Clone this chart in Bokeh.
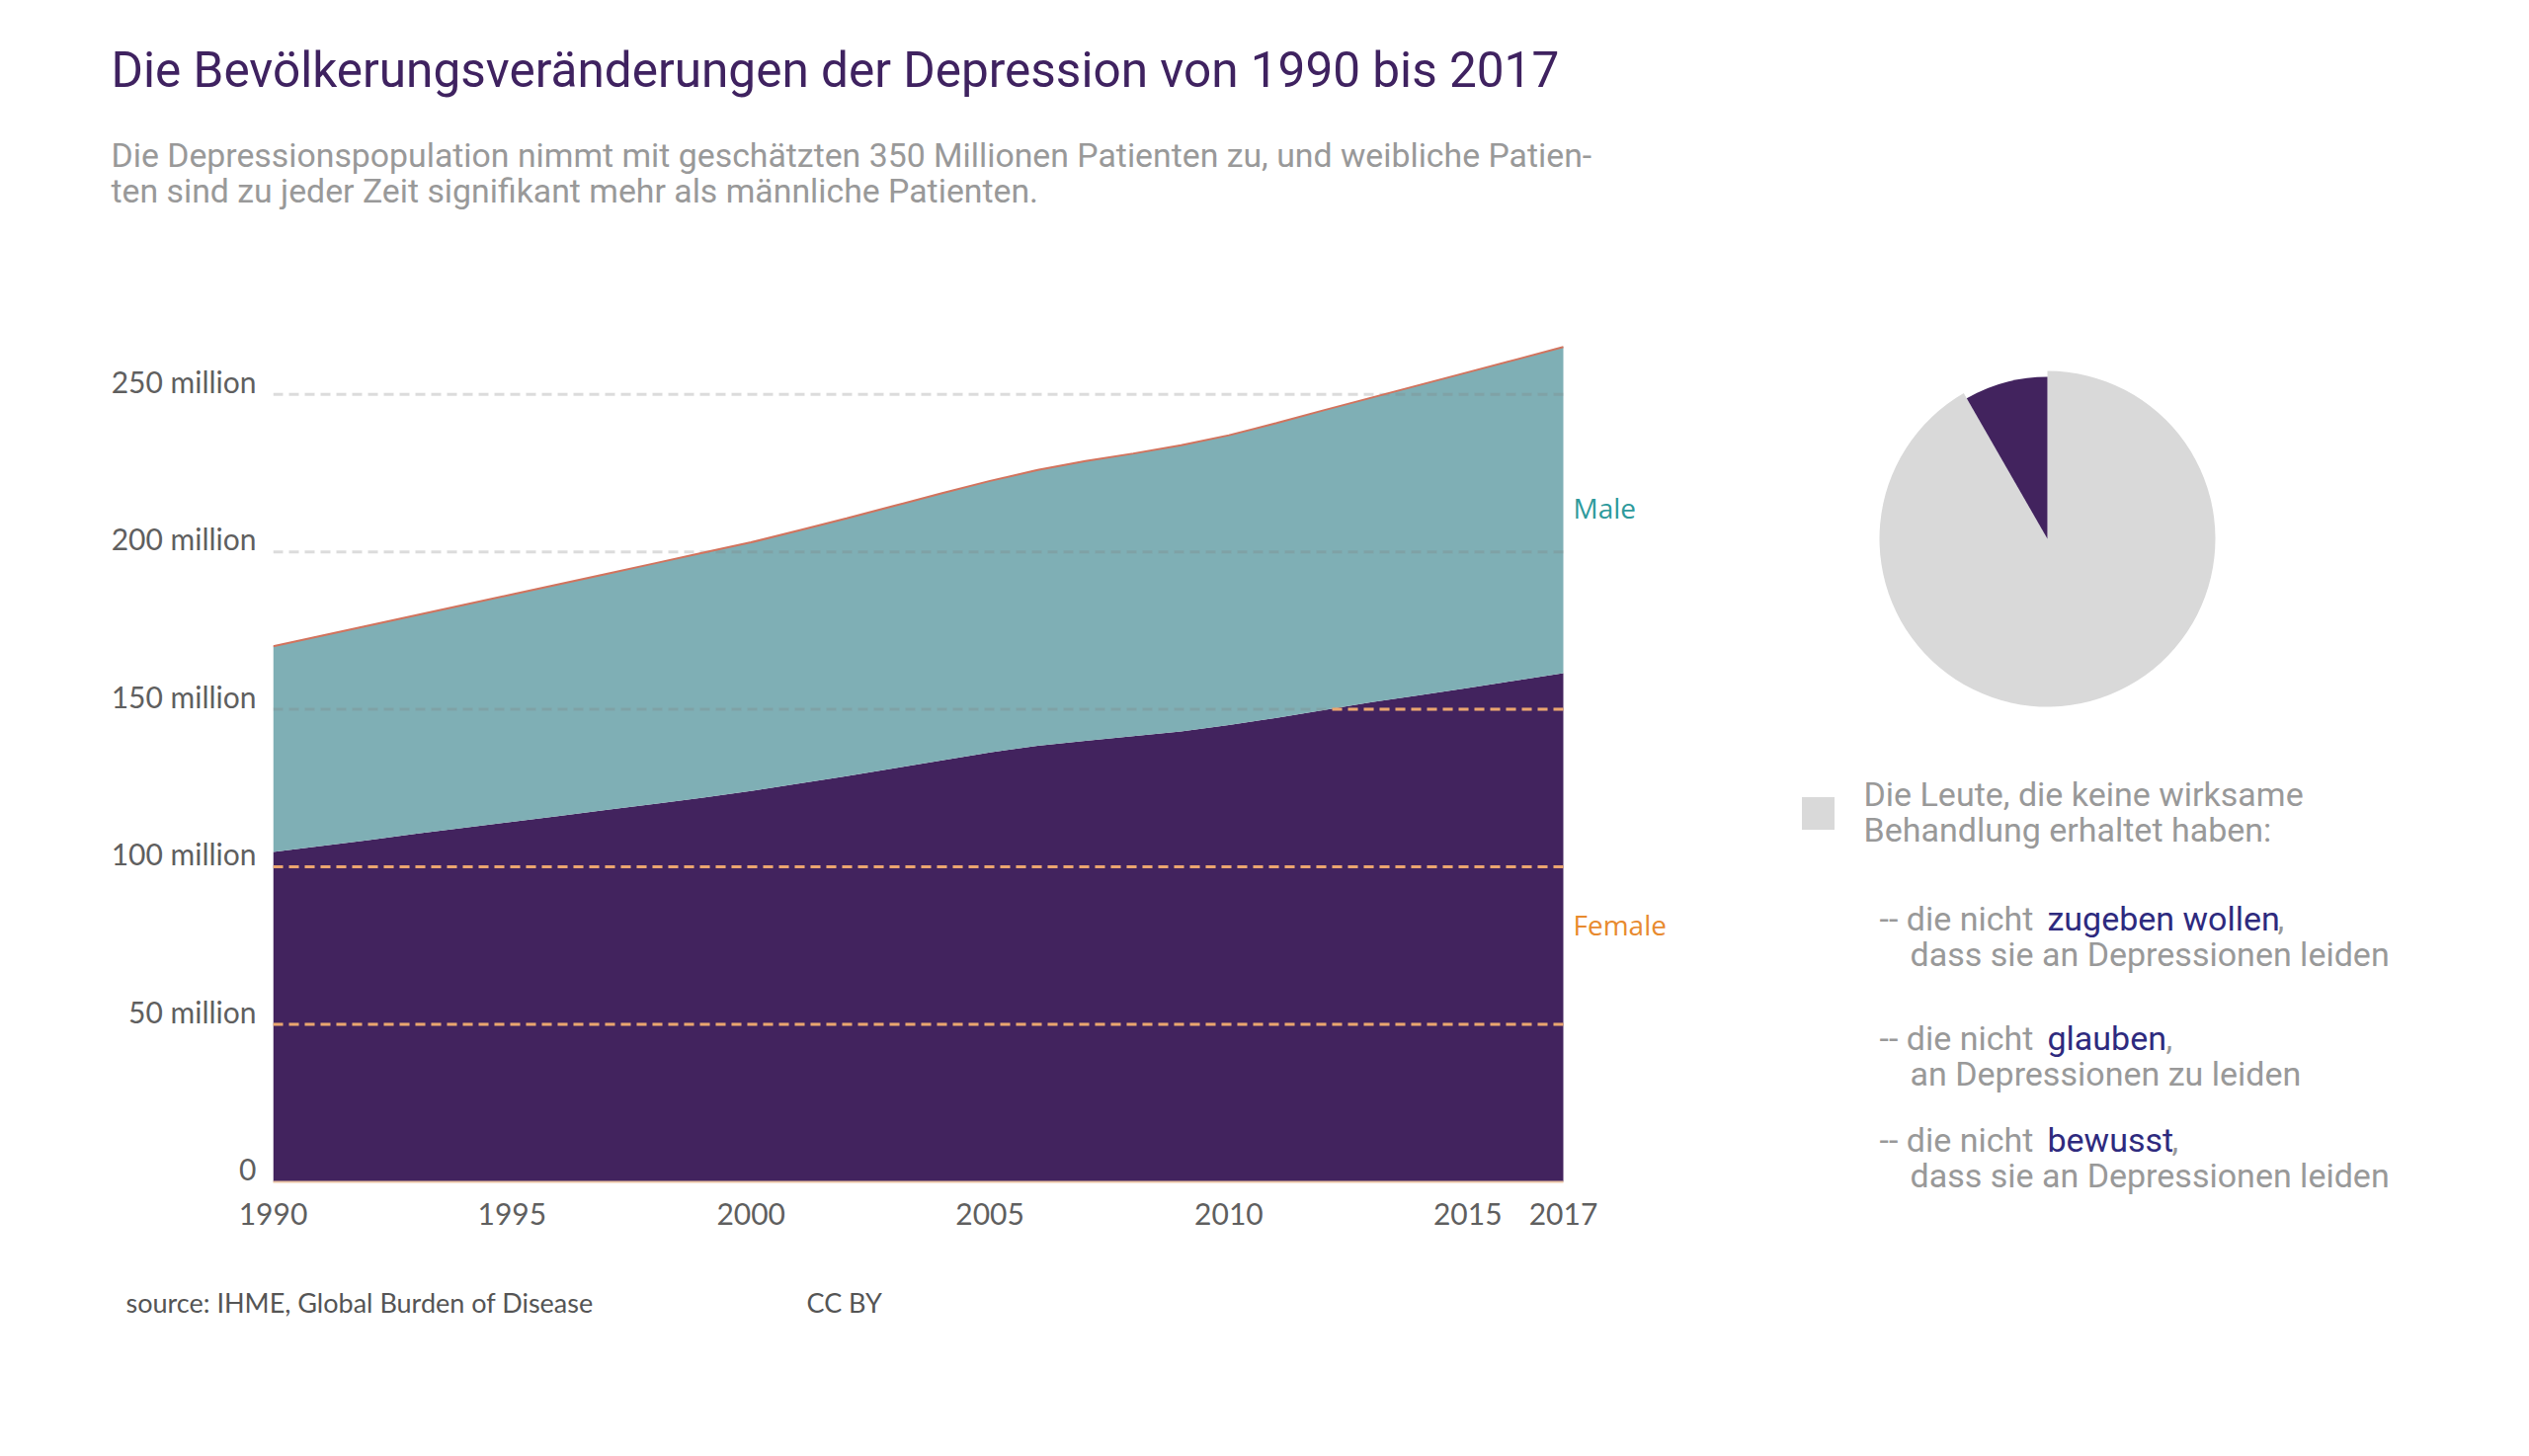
from bokeh.plotting import figure
from bokeh.layouts import column, row
from bokeh.models import Range1d, FixedTicker, ColumnDataSource
from bokeh.core.properties import value
from bokeh.embed import file_html
from bokeh.resources import INLINE
import math

# ---------------- data ----------------
years = list(range(1990, 2018))
female = [104.7, 106.6, 108.5, 110.5, 112.4, 114.3, 116.2, 118.1, 120.0, 122.0,
          124.1, 126.4, 128.8, 131.3, 133.8, 136.3, 138.4, 140.0, 141.5, 143.0,
          145.0, 147.3, 149.8, 152.3, 154.5, 156.8, 159.1, 161.5]
male = [65.3, 66.7, 68.1, 69.4, 70.8, 72.2, 73.6, 75.0, 76.4, 77.7,
        78.9, 80.4, 81.8, 83.3, 84.8, 86.2, 87.6, 88.8, 89.7, 90.8,
        92.0, 93.6, 95.2, 96.7, 98.5, 100.2, 101.9, 103.5]
y_ticks = [0, 50, 100, 150, 200, 250]
y_tick_labels = ["0", "50 million", "100 million", "150 million", "200 million", "250 million"]
x_ticks = [1990, 1995, 2000, 2005, 2010, 2015, 2017]
series_names = ["Male", "Female"]
pie_names = ["wirksam behandelt", "keine wirksame Behandlung"]
pie_shares = [8.3, 91.7]

title = "Die Bevölkerungsveränderungen der Depression von 1990 bis 2017"
subtitle = ["Die Depressionspopulation nimmt mit geschätzten 350 Millionen Patienten zu, und weibliche Patien-",
            "ten sind zu jeder Zeit signifikant mehr als männliche Patienten."]
legend_lines = ["Die Leute, die keine wirksame", "Behandlung erhaltet haben:"]
bullet_pre = ["-- die nicht ", "-- die nicht ", "-- die nicht "]
bullet_word = ["zugeben wollen", "glauben", "bewusst"]
bullet_second = ["dass sie an Depressionen leiden", "an Depressionen zu leiden",
                 "dass sie an Depressionen leiden"]
source_text = "source: IHME, Global Burden of Disease"
license_text = "CC BY"

# ---------------- colours / fonts ----------------
PURPLE = "#42235E"
TEAL = "#7FAFB5"
TOPLINE = "#D2735D"
ORANGE_GRID = "#EBA56F"
GREY_TXT = "#999999"
AXIS_TXT = "#5F5F5F"
BLUE_TXT = "#2E2A7E"
SANS = "Roboto"
LATO = "Lato"

W = 2552
H_HEAD = 248
H_MAIN = 1022
H_FOOT = 188
W_MAIN = 1760
W_RIGHT = W - W_MAIN

FR_LEFT, FR_RIGHT_BORDER, FR_TOP, FR_BOTTOM = 276, 10, 55, 74
PX_PER_YEAR = 1306 / 27.0
frame_w = W_MAIN - FR_LEFT - FR_RIGHT_BORDER
x_end = years[0] + frame_w / PX_PER_YEAR


def blank(width, height):
    f = figure(width=width, height=height, x_range=Range1d(0, width),
               y_range=Range1d(height, 0),
               output_backend="svg", toolbar_location=None, min_border=0)
    f.axis.visible = False
    f.grid.visible = False
    f.outline_line_color = None
    f.background_fill_color = "white"
    f.border_fill_color = "white"
    f.frame_align = False
    return f


# ---------------- header ----------------
header = blank(W, H_HEAD)
header.text(x=[112], y=[70], text=[title], text_font=value(SANS), text_font_size="49.5px",
            text_color="#3F2260", text_baseline="middle")
header.text(x=[112, 112], y=[157, 193], text=subtitle, text_font=value(SANS),
            text_font_size="33.8px", text_color=GREY_TXT, text_baseline="middle")

# ---------------- main area chart ----------------
total = [f + m for f, m in zip(female, male)]
src = ColumnDataSource(dict(year=years, female=female, male=male, total=total))

p = figure(width=W_MAIN, height=H_MAIN, x_range=Range1d(years[0], x_end), y_range=Range1d(0, 280),
           output_backend="svg", toolbar_location=None,
           min_border_left=FR_LEFT, min_border_right=FR_RIGHT_BORDER,
           min_border_top=FR_TOP, min_border_bottom=FR_BOTTOM)
p.frame_align = False
p.outline_line_color = None
p.background_fill_color = "white"
p.border_fill_color = "white"
p.grid.visible = False

p.varea(x="year", y1=0, y2="female", source=src, fill_color=PURPLE)
p.varea(x="year", y1="female", y2="total", source=src, fill_color=TEAL)

DASH = "10 6"
grid_levels = y_ticks[1:]
# faint grey dashed guides across the data span
p.segment(x0=[years[0]] * len(grid_levels), y0=grid_levels,
          x1=[years[-1]] * len(grid_levels), y1=grid_levels,
          line_color="#808080", line_alpha=0.28, line_width=3, line_dash=DASH)

# orange dashed guides only inside the female area
for lv in grid_levels:
    start = None
    for i in range(len(years)):
        if female[i] >= lv:
            if i == 0:
                start = years[0]
            else:
                f0, f1 = female[i - 1], female[i]
                start = years[i - 1] + (lv - f0) / (f1 - f0)
            break
    if start is not None:
        off = int(round((start - years[0]) * PX_PER_YEAR)) % 16
        p.segment(x0=[start], y0=[lv], x1=[years[-1]], y1=[lv],
                  line_color=ORANGE_GRID, line_width=3, line_dash=DASH, line_dash_offset=off)

p.line(x="year", y="total", source=src, line_color=TOPLINE, line_width=2)

p.yaxis.ticker = FixedTicker(ticks=y_ticks)
p.yaxis.major_label_overrides = {t: l + "\n" for t, l in zip(y_ticks, y_tick_labels)}
p.yaxis.major_label_text_line_height = 0.75
p.xaxis.ticker = FixedTicker(ticks=x_ticks)
p.xaxis.bounds = (years[0], years[-1])
for ax in (p.xaxis, p.yaxis):
    ax.major_tick_line_color = None
    ax.minor_tick_line_color = None
    ax.major_label_text_font = LATO
    ax.major_label_text_font_size = "30px"
    ax.major_label_text_color = AXIS_TXT
p.yaxis.axis_line_color = None
p.xaxis.axis_line_color = "#EBC5A5"
p.xaxis.axis_line_width = 2
p.yaxis.major_label_standoff = 11
p.xaxis.major_label_standoff = 15

p.text(x=[years[-1]], y=[female[-1] + male[-1] / 2], x_offset=10, y_offset=-2, text=[series_names[0]],
       text_font=value("Open Sans"), text_font_size="28px", text_color="#2E9A9C",
       text_baseline="middle")
p.text(x=[years[-1]], y=[female[-1] / 2], x_offset=10, y_offset=-3, text=[series_names[1]],
       text_font=value("Open Sans"), text_font_size="28px", text_color="#E88A2E",
       text_baseline="middle")

# ---------------- right panel: pie + notes ----------------
r = blank(W_RIGHT, H_MAIN)
cx, cy, rad = 312, 297, 170
angles = []
acc = math.pi / 2
for s in pie_shares:
    a0 = acc
    acc += s / sum(pie_shares) * 2 * math.pi
    angles.append((a0, acc))
r.wedge(x=[cx], y=[cy], radius=rad, start_angle=[angles[1][0]], end_angle=[angles[1][1]],
        fill_color="#D9D9D9", line_color=None)
r.wedge(x=[cx], y=[cy], radius=rad - 6, start_angle=[angles[0][0]], end_angle=[angles[0][1]],
        fill_color=PURPLE, line_color=None)

r.rect(x=[80], y=[575], width=33, height=33, fill_color="#D9D9D9", line_color=None)
r.text(x=[126, 126], y=[555, 591], text=legend_lines, text_font=value(SANS),
       text_font_size="34px", text_color=GREY_TXT, text_baseline="middle")

line_y = [681, 802, 905]
comma_x = [545, 432, 438]
for pre, word, second, ly, cxm in zip(bullet_pre, bullet_word, bullet_second, line_y, comma_x):
    r.text(x=[142], y=[ly], text=[pre], text_font=value(SANS), text_font_size="34px",
           text_color=GREY_TXT, text_baseline="middle")
    r.text(x=[312], y=[ly], text=[word], text_font=value(SANS), text_font_size="34px",
           text_color=BLUE_TXT, text_baseline="middle")
    r.text(x=[cxm], y=[ly], text=[","], text_font=value(SANS), text_font_size="34px",
           text_color=GREY_TXT, text_baseline="middle")
    r.text(x=[173], y=[ly + 36], text=[second], text_font=value(SANS), text_font_size="34px",
           text_color=GREY_TXT, text_baseline="middle")

# ---------------- footer ----------------
foot = blank(W, H_FOOT)
foot.text(x=[127], y=[48], text=[source_text], text_font=value(LATO), text_font_size="27px",
          text_color="#555555", text_baseline="middle")
foot.text(x=[816], y=[48], text=[license_text], text_font=value(LATO), text_font_size="27px",
          text_color="#555555", text_baseline="middle")

layout = column(header, row(p, r), foot)
open("out.html", "w").write(file_html(layout, INLINE))
